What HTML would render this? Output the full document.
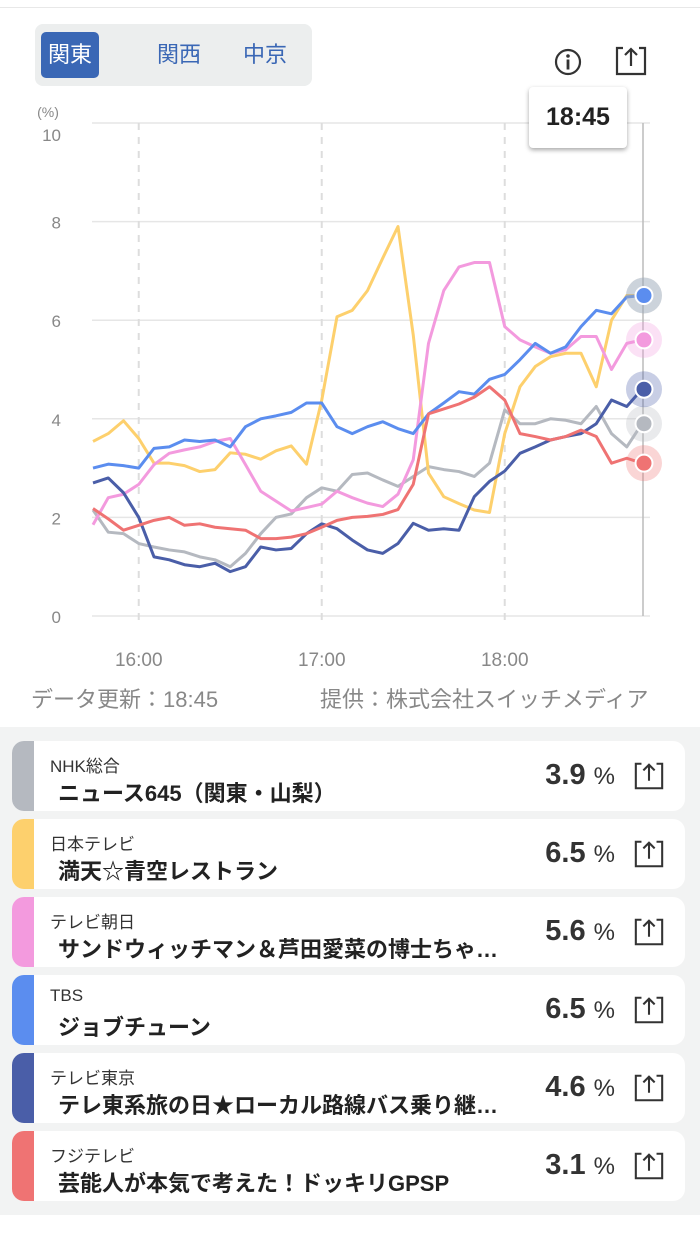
<!DOCTYPE html>
<html><head><meta charset="utf-8"><style>
body{margin:0;width:700px;height:1245px;background:#fff;font-family:"Liberation Sans","Noto Sans CJK JP",sans-serif;position:relative;overflow:hidden}
.abs{position:absolute}
.seg{left:35px;top:24px;width:277px;height:62px;background:#eceeee;border-radius:8px}
.btn{position:absolute;top:8px;height:46px;width:58px;line-height:46px;text-align:center;font-size:22px;color:#3a67b5;border-radius:5px}
.list{left:0;top:727px;width:700px;height:488px;background:#f2f3f3}
.card{position:absolute;left:12px;width:673px;height:70px;background:#fff;border-radius:12px;overflow:hidden}
.bar{position:absolute;left:0;top:0;width:22px;height:70px}
.ch{position:absolute;left:38px;top:11px;font-size:17px;color:#333}
.ti{position:absolute;left:46px;top:35px;font-size:22px;font-weight:bold;color:#222;white-space:nowrap}
.pc{position:absolute;right:70px;top:18px;font-size:29px;font-weight:bold;color:#333}
.pc span{font-size:24px;font-weight:normal}
.sh{position:absolute;right:20px;top:18px}
</style></head><body>
<div class="abs" style="left:0;top:7px;width:700px;height:1px;background:#e8e8e8"></div>
<div class="abs seg">
<div class="btn" style="left:6px;background:#3a67b5;color:#fff">関東</div>
<div class="btn" style="left:115px">関西</div>
<div class="btn" style="left:201px">中京</div>
</div>
<svg class="abs" style="left:553px;top:47px" width="30" height="30" viewBox="0 0 30 30"><circle cx="15" cy="15" r="12" fill="none" stroke="#333" stroke-width="2.2"/><circle cx="15" cy="9" r="1.8" fill="#333"/><rect x="13.6" y="12.5" width="2.8" height="10" fill="#333"/></svg>
<svg class="abs" style="left:614px;top:44px" width="34" height="34" viewBox="0 0 34 34"><path d="M9 4H3V30H31V4H25" fill="none" stroke="#333" stroke-width="2.2"/><path d="M17 22V5M11 11L17 5L23 11" fill="none" stroke="#333" stroke-width="2.2"/></svg>
<svg class="abs" id="chart" style="left:0;top:90px" width="700" height="600"></svg>
<div class="abs" style="left:529px;top:87px;width:98px;height:61px;background:#fff;border-radius:4px;box-shadow:0 2px 5px rgba(0,0,0,.35);font-size:25px;font-weight:bold;color:#222;text-align:center;line-height:61px">18:45</div>
<div class="abs" style="left:31px;top:682px;font-size:22px;color:#888">データ更新：18:45</div>
<div class="abs" style="left:320px;top:682px;font-size:22px;color:#888;white-space:nowrap">提供：株式会社スイッチメディア</div>
<div class="abs list" id="list"></div>
<script>
const times=[];for(let i=0;i<=36;i++)times.push(i*5);
const yTicks=[0,2,4,6,8,10];
const xTickLabels=["16:00","17:00","18:00"];
const xTickMinutes=[15,75,135];
const nhk=[2.15,1.7,1.67,1.47,1.4,1.34,1.3,1.2,1.14,1.0,1.27,1.67,2.0,2.07,2.4,2.6,2.53,2.87,2.9,2.76,2.63,2.83,3.03,2.97,2.93,2.83,3.1,4.18,3.9,3.9,4.0,3.97,3.9,4.25,3.7,3.43,3.9];
const ntv=[3.54,3.7,3.96,3.6,3.1,3.1,3.05,2.93,2.97,3.31,3.28,3.18,3.35,3.45,3.08,4.38,6.07,6.2,6.6,7.26,7.9,5.7,2.9,2.42,2.28,2.15,2.1,3.7,4.65,5.06,5.26,5.33,5.33,4.65,6.0,6.5,6.5];
const tvasahi=[1.85,2.4,2.47,2.67,3.07,3.3,3.37,3.43,3.54,3.6,3.07,2.53,2.33,2.13,2.2,2.27,2.53,2.4,2.29,2.22,2.47,3.17,5.53,6.6,7.08,7.17,7.17,5.87,5.6,5.46,5.33,5.4,5.67,5.67,5.0,5.53,5.6];
const tbs=[3.0,3.08,3.05,3.0,3.4,3.43,3.57,3.54,3.57,3.43,3.84,4.0,4.06,4.13,4.32,4.32,3.84,3.7,3.84,3.94,3.8,3.7,4.1,4.32,4.55,4.5,4.8,4.9,5.2,5.53,5.33,5.46,5.87,6.2,6.13,6.47,6.5];
const tvtokyo=[2.7,2.8,2.5,2.0,1.2,1.14,1.04,1.0,1.07,0.9,1.0,1.4,1.34,1.37,1.67,1.87,1.77,1.54,1.34,1.27,1.47,1.88,1.74,1.77,1.74,2.42,2.73,2.94,3.3,3.43,3.57,3.64,3.7,3.9,4.38,4.25,4.6];
const fuji=[2.18,1.97,1.74,1.84,1.94,2.0,1.84,1.87,1.8,1.77,1.74,1.57,1.57,1.6,1.67,1.8,1.94,2.0,2.02,2.06,2.16,2.67,4.1,4.2,4.3,4.44,4.65,4.38,3.7,3.64,3.57,3.64,3.77,3.64,3.1,3.2,3.1];
const channels=["NHK総合","日本テレビ","テレビ朝日","TBS","テレビ東京","フジテレビ"];
const titles=["ニュース645（関東・山梨）","満天☆青空レストラン","サンドウィッチマン＆芦田愛菜の博士ちゃ…","ジョブチューン","テレ東系旅の日★ローカル路線バス乗り継…","芸能人が本気で考えた！ドッキリGPSP"];
const current=[3.9,6.5,5.6,6.5,4.6,3.1];
const series=[nhk,ntv,tvasahi,tbs,tvtokyo,fuji];
const colors=["#b5b9c0","#fdd06d","#f39ade","#5b8def","#4a5ea8","#ef7373"];
const names=["nhk","ntv","tv-asahi","tbs","tv-tokyo","fuji"];
const NS="http://www.w3.org/2000/svg";
const svg=document.getElementById('chart');
const OY=90;
function X(t){return 93+3.05*t;}
function Y(v){return 616-OY-49.3*v;}
function mk(tag,a){const e=document.createElementNS(NS,tag);for(const k in a)e.setAttribute(k,a[k]);svg.appendChild(e);return e;}
yTicks.forEach(v=>{
 const g=mk('line',{x1:92,x2:650,y1:Y(v),y2:Y(v),stroke:'#e6e6e6','stroke-width':1.5});
 
 
 const t=mk('text',{x:61,y:Y(v)+(v==10?18:7),'text-anchor':'end','font-size':17,fill:'#888'});t.textContent=v;
 
 
});
const u=mk('text',{x:48,y:117-OY,'text-anchor':'middle','font-size':14,fill:'#888'});u.textContent='(%)';


xTickMinutes.forEach((m,i)=>{
 const l=mk('line',{x1:X(m),x2:X(m),y1:Y(10),y2:Y(0)+5,stroke:'#ddd','stroke-width':2,'stroke-dasharray':'7,7'});
 
 
 const t=mk('text',{x:X(m),y:666-OY,'text-anchor':'middle','font-size':19,fill:'#888'});t.textContent=xTickLabels[i];
 
 
});
const cl=mk('line',{x1:X(180)+1,x2:X(180)+1,y1:Y(10),y2:Y(0),stroke:'#bbb','stroke-width':1.5});


series.forEach((s,i)=>{
 const p=mk('polyline',{points:s.map((v,j)=>X(times[j])+','+Y(v)).join(' '),fill:'none',stroke:colors[i],'stroke-width':3,'stroke-linejoin':'round'});
 
 
});
series.forEach((s,i)=>{
 const v=s[s.length-1],cx=X(180)+2,cy=Y(v);
 const h=mk('circle',{cx:cx,cy:cy,r:18,fill:colors[i],opacity:0.3});
 
 
 const c=mk('circle',{cx:cx,cy:cy,r:8.5,fill:colors[i],stroke:'#fff','stroke-width':2});
 
 
});
const list=document.getElementById('list');
channels.forEach((ch,i)=>{
 const c=document.createElement('div');c.className='card';c.style.top=(14+78*i)+'px';
 
 
 c.innerHTML='<div class="bar" style="background:'+colors[i]+'"></div><div class="ch">'+ch+'</div><div class="ti">'+titles[i]+'</div><div class="pc">'+current[i].toFixed(1)+' <span>%</span></div><svg class="sh" width="32" height="34" viewBox="0 0 34 34"><path d="M9 4H3V30H31V4H25" fill="none" stroke="#333" stroke-width="2.2"/><path d="M17 22V5M11 11L17 5L23 11" fill="none" stroke="#333" stroke-width="2.2"/></svg>';
 list.appendChild(c);
});
</script>
</body></html>
